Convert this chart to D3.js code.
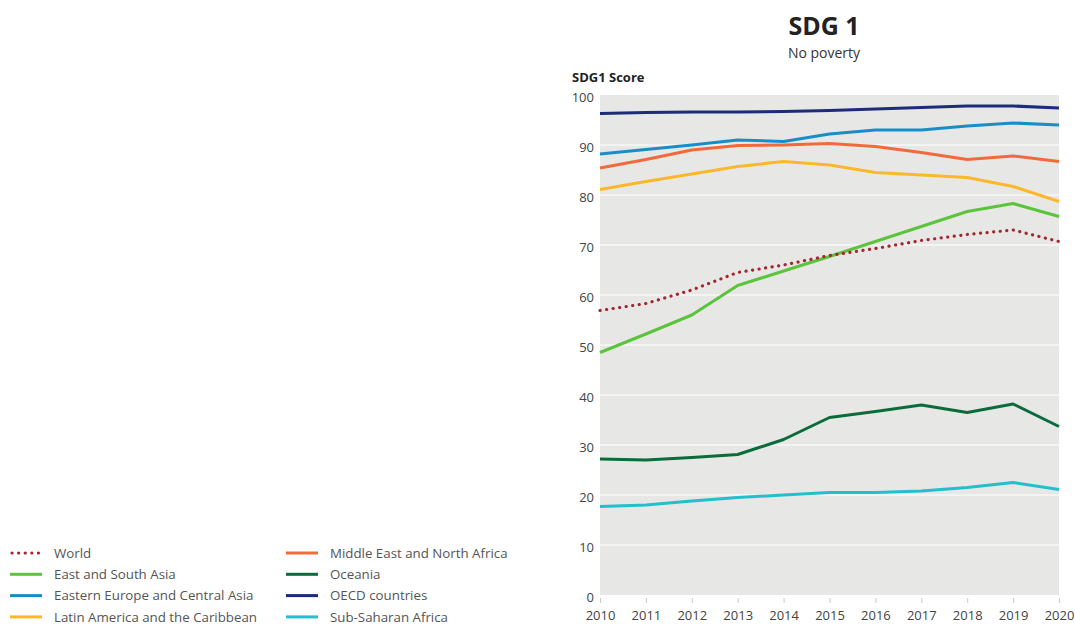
<!DOCTYPE html>
<html>
<head>
<meta charset="utf-8">
<script src="https://cdn.jsdelivr.net/npm/d3@7/dist/d3.min.js"></script>
<style>
  html, body { margin: 0; padding: 0; background: #fff; }
  svg { display: block; font-family: "Open Sans", "Noto Sans", sans-serif; }
</style>
</head>
<body>
<svg id="chart" width="1075" height="625"></svg>
<script>
const years = [2010, 2011, 2012, 2013, 2014, 2015, 2016, 2017, 2018, 2019, 2020];
const yTicks = [0, 10, 20, 30, 40, 50, 60, 70, 80, 90, 100];

const world       = [56.9, 58.3, 61.0, 64.5, 66.0, 67.9, 69.3, 70.9, 72.1, 73.0, 70.7];
const eastSouthAsia = [48.5, 52.2, 56.0, 61.9, 64.8, 67.7, 70.7, 73.7, 76.7, 78.3, 75.7];
const easternEurope = [88.2, 89.1, 90.0, 91.0, 90.7, 92.2, 93.0, 93.0, 93.8, 94.4, 94.0];
const latinAmerica  = [81.1, 82.7, 84.2, 85.7, 86.7, 86.0, 84.5, 84.0, 83.5, 81.7, 78.7];
const middleEast    = [85.4, 87.1, 89.0, 89.9, 90.0, 90.3, 89.7, 88.5, 87.1, 87.8, 86.7];
const oceania       = [27.2, 27.0, 27.5, 28.1, 31.1, 35.5, 36.7, 38.0, 36.5, 38.2, 33.7];
const oecd          = [96.3, 96.5, 96.6, 96.6, 96.7, 96.9, 97.2, 97.5, 97.8, 97.8, 97.4];
const subSaharan    = [17.7, 18.0, 18.8, 19.5, 20.0, 20.5, 20.5, 20.8, 21.5, 22.5, 21.1];

const seriesNames = ["World", "East and South Asia", "Eastern Europe and Central Asia", "Latin America and the Caribbean",
                     "Middle East and North Africa", "Oceania", "OECD countries", "Sub-Saharan Africa"];
const seriesValues = [world, eastSouthAsia, easternEurope, latinAmerica, middleEast, oceania, oecd, subSaharan];
const seriesColors = ["#a3272f", "#5cc43c", "#1a8dc8", "#fcb82a", "#f26a3b", "#0b6b3a", "#1d2c78", "#22bfcc"];
const dotted = [true, false, false, false, false, false, false, false];

const svg = d3.select("#chart");
const pL = 600, pR = 1059, pT = 95, pB = 595;

const x = d3.scaleLinear().domain([2010, 2020]).range([pL, pR]);
const y = d3.scaleLinear().domain([0, 100]).range([pB, pT]);

// plot background
svg.append("rect").attr("x", pL).attr("y", pT).attr("width", pR - pL).attr("height", pB - pT)
   .attr("fill", "#e7e8e6");

// gridlines
svg.append("g").selectAll("line").data(yTicks.filter(d => d > 0 && d < 100)).join("line")
   .attr("x1", pL).attr("x2", pR).attr("y1", d => y(d)).attr("y2", d => y(d))
   .attr("stroke", "#ffffff").attr("stroke-width", 1);

// y axis labels
const yAxis = d3.axisLeft(y).tickValues(yTicks).tickSize(0).tickPadding(6).tickFormat(d3.format("d"));
const gy = svg.append("g").attr("transform", `translate(${pL},0)`).call(yAxis);
gy.select(".domain").remove();
gy.selectAll("text").attr("font-size", 13).attr("fill", "#444").attr("font-family", "Open Sans, sans-serif")
  .attr("dy", "0.5em");

// x axis
const xAxis = d3.axisBottom(x).tickValues(years).tickSize(5).tickPadding(8).tickFormat(d3.format("d"));
const gx = svg.append("g").attr("transform", `translate(0,${pB + 3})`).call(xAxis);
gx.select(".domain").remove();
gx.selectAll("line").attr("stroke", "#c8c8c8");
gx.selectAll("text").attr("font-size", 13).attr("fill", "#444").attr("font-family", "Open Sans, sans-serif");

// lines
const line = d3.line().x((d, i) => x(years[i])).y(d => y(d));
const order = [5, 7, 3, 4, 2, 6, 1, 0];
order.forEach(k => {
  const p = svg.append("path").datum(seriesValues[k]).attr("d", line)
    .attr("fill", "none").attr("stroke", seriesColors[k]);
  if (dotted[k]) {
    p.attr("stroke-width", 3.2).attr("stroke-dasharray", "0.1 6.5").attr("stroke-linecap", "round");
  } else {
    p.attr("stroke-width", 3).attr("stroke-linejoin", "round");
  }
});

// titles
svg.append("text").attr("x", 824).attr("y", 35).attr("text-anchor", "middle")
   .attr("font-size", 25).attr("font-weight", "bold").attr("fill", "#222").text("SDG 1");
svg.append("text").attr("x", 824).attr("y", 58).attr("text-anchor", "middle")
   .attr("font-size", 14).attr("fill", "#333").text("No poverty");
svg.append("text").attr("x", 572).attr("y", 82)
   .attr("font-size", 13).attr("font-weight", "bold").attr("fill", "#222").text("SDG1 Score");

// legend
const legend = svg.append("g");
seriesNames.forEach((name, i) => {
  const col = Math.floor(i / 4), row = i % 4;
  const lx = col === 0 ? 10 : 286;
  const ly = 553 + row * 21.3;
  const sw = legend.append("line").attr("x1", lx).attr("x2", lx + 32).attr("y1", ly).attr("y2", ly)
    .attr("stroke", seriesColors[i]);
  if (dotted[i]) {
    sw.attr("stroke-width", 3.2).attr("stroke-dasharray", "0.1 6.5").attr("stroke-linecap", "round")
      .attr("x1", lx + 2);
  } else {
    sw.attr("stroke-width", 3);
  }
  legend.append("text").attr("x", lx + 44).attr("y", ly).attr("dy", "0.35em")
    .attr("font-size", 13.3).attr("fill", "#555").text(name);
});
</script>
</body>
</html>
